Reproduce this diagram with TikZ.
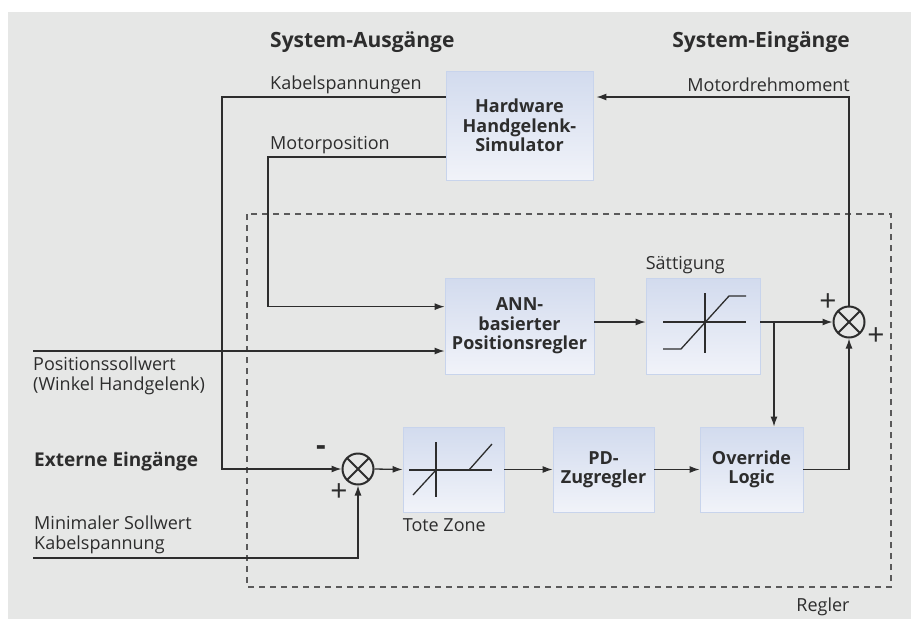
\documentclass[tikz,border=0pt]{standalone}
\usepackage{fontspec}
\setmainfont{Open Sans}
\usepackage{tikz}
\usetikzlibrary{arrows.meta,positioning,calc,shapes.geometric}
\definecolor{rgback}{RGB}{230,231,230}
\definecolor{rgline}{RGB}{45,45,45}
\definecolor{rgtop}{RGB}{210,219,238}
\definecolor{rgbot}{RGB}{241,243,249}
\definecolor{rgedge}{RGB}{200,212,236}
\definecolor{rgdash}{RGB}{90,90,90}

\begin{document}
\begin{tikzpicture}[x=1pt,y=-1pt,
  rgblk/.style={draw=rgedge,line width=0.8pt,top color=rgtop,bottom color=rgbot,
    align=center,font=\fontsize{18}{19.5}\selectfont\bfseries,text=rgline,inner sep=2pt},
  rgsum/.style={circle,draw=rgline,line width=2pt,minimum size=31pt,inner sep=0pt,
    path picture={\draw[rgline,line width=2pt]
      (path picture bounding box.north west)--(path picture bounding box.south east)
      (path picture bounding box.north east)--(path picture bounding box.south west);}},
  rgarr/.style={-{Latex[length=10pt,width=7pt]},line width=1.3pt,rgline},
  rglin/.style={line width=1.3pt,rgline},
  rglbl/.style={font=\fontsize{18}{19.5}\selectfont,text=rgline,inner sep=0pt},
  rghead/.style={font=\fontsize{21}{23}\selectfont\bfseries,text=rgline,inner sep=0pt},
  rgsign/.style={font=\fontsize{30}{30}\selectfont,text=rgline,inner sep=0pt}
]
  \useasboundingbox (0,0) rectangle (911,619);
  \fill[rgback] (8,12) rectangle (911,619);
  % Headings
  \node[rghead,anchor=west] (aus) at (270,42) {System-Ausgänge};
  \node[rghead,anchor=east] (ein) at (850,42) {System-Eingänge};
  % Regler frame
  \draw[rgdash,line width=1.2pt,dash pattern=on 6pt off 5pt] (247,214) rectangle (891,587);
  \node[rglbl] (reg) at (823,607) {Regler};
  % Blocks
  \node[rgblk,minimum width=147pt,minimum height=109pt] (hw) at (519.5,125.5) {Hardware\\Handgelenk-\\Simulator};
  \node[rgblk,minimum width=149pt,minimum height=96pt] (ann) at (519.5,326) {ANN-\\basierter\\Positionsregler};
  \node[rgblk,minimum width=114pt,minimum height=96pt] (sat) at (703,326) {};
  \node[rgblk,minimum width=101pt,minimum height=85pt] (tote) at (453.5,469.5) {};
  \node[rgblk,minimum width=101pt,minimum height=85pt] (pd) at (603.5,469.5) {PD-\\Zugregler};
  \node[rgblk,minimum width=103pt,minimum height=85pt] (ovr) at (751.5,469.5) {Override\\Logic};
  \node[rglbl,anchor=south west] (satl) at ([yshift=4pt]sat.north west) {Sättigung};
  \node[rglbl,anchor=north west] (totl) at ([yshift=-6pt]tote.south west) {Tote Zone};
  % Summing points
  \node[rgsum] (sum1) at (358,469) {};
  \node[rgsum] (sum2) at (849,322) {};
  % Characteristic curves
  \draw[rglin] (663,322) -- (746,322) (705,293) -- (705,353);
  \draw[rglin] (663,349) -- (681,349) -- (729,296) -- (746,296);
  \draw[rglin] (409,470) -- (492,470) (436,442) -- (436,497);
  \draw[rglin] (413,495) -- (436,470) (469,470) -- (492,444);
  % Signal labels
  \node[rglbl,anchor=west] (kabl) at (270,85) {Kabelspannungen};
  \node[rglbl,anchor=west] (mpl) at (270,145) {Motorposition};
  \node[rglbl,anchor=east] (mdl) at (850,85) {Motordrehmoment};
  \node[rglbl,anchor=north west,align=left] (psl) at (33,357) {Positionssollwert\\(Winkel Handgelenk)};
  \node[rghead,font=\fontsize{19}{20}\selectfont\bfseries,anchor=west] (ext) at (34,462) {Externe Eingänge};
  \node[rglbl,anchor=south west,align=left] (msl) at (34,554) {Minimaler Sollwert\\Kabelspannung};
  % Turn points and free ends
  \coordinate (kabturn) at (222,97);
  \coordinate (posturn) at (268,157);
  \coordinate (possoll) at (33,351);
  \coordinate (minsoll) at (33,558);
  \coordinate (br) at (774,322);
  % Connectors
  \draw[rgarr] (hw.west |- kabturn) -- (kabturn) |- (sum1.west);
  \draw[rgarr] (hw.west |- posturn) -- (posturn) |- ($(ann.north west)!0.3!(ann.south west)$);
  \draw[rgarr] (possoll) -- (possoll -| ann.west);
  \draw[rgarr,shorten >=3pt] (sum2.north) |- (hw.east |- kabturn);
  \draw[rgarr] (ann.east |- sum2) -- (sat.west |- sum2);
  \draw[rgarr] (sat.east |- sum2) -- (sum2.west);
  \draw[rgarr] (br) -- (br |- ovr.north);
  \draw[rgarr] (sum1.east) -- (tote.west);
  \draw[rgarr] (tote.east) -- (pd.west);
  \draw[rgarr] (pd.east) -- (ovr.west);
  \draw[rgarr] (ovr.east) -| (sum2.south);
  \draw[rgarr] (minsoll) -| (sum1.south);
  % Signs
  \node[rgsign,font=\fontsize{30}{30}\selectfont\bfseries] (m1) at (321,451) {-};
  \node[rgsign] (p1) at (339,493) {+};
  \node[rgsign] (p2) at (828,303) {+};
  \node[rgsign] (p3) at (876,337) {+};
\end{tikzpicture}
\end{document}
